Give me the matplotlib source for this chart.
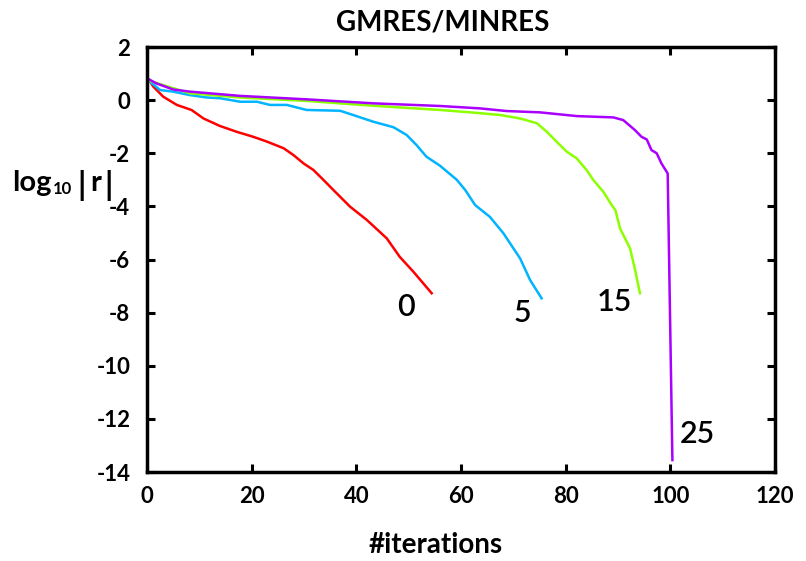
import matplotlib
matplotlib.use("Agg")
import matplotlib.pyplot as plt

plt.rcParams['font.family'] = ['Lato', 'DejaVu Sans']
plt.rcParams['font.weight'] = 'bold'
plt.rcParams['axes.unicode_minus'] = False

# residual histories (x = iteration, y = log10|r|)
x0 = [0.4, 1.2, 3.1, 5.7, 8.5, 10.8, 13.9, 17.1, 20.3, 22.9, 26.1, 28, 29.9, 31.8,
      33.7, 35.6, 38.8, 42, 45.8, 48.3, 50.9, 54.4]
y0 = [0.76, 0.51, 0.13, -0.18, -0.37, -0.69, -0.97, -1.19, -1.38, -1.56, -1.81, -2.07,
      -2.38, -2.63, -3.0, -3.38, -4.01, -4.51, -5.2, -5.9, -6.46, -7.27]

x5 = [0.6, 2.5, 5, 8.2, 11.4, 14, 17.8, 21, 23.5, 26.7, 30.5, 36.9, 39.4, 43.2, 47.1,
      49.6, 51.5, 53.4, 56, 59.2, 60.8, 62.7, 65.5, 68.1, 71.3, 73.2, 75.4]
y5 = [0.69, 0.38, 0.32, 0.19, 0.1, 0.07, -0.06, -0.06, -0.18, -0.18, -0.37, -0.4, -0.56,
      -0.81, -1.02, -1.31, -1.69, -2.13, -2.47, -3.0, -3.38, -3.95, -4.39, -5.01, -5.96,
      -6.77, -7.46]

x15 = [0.6, 5, 8.2, 17.8, 30.5, 43.2, 56, 62.4, 67.5, 71.3, 74.5, 76.4, 78.3, 80.2, 82.1,
       84, 85.3, 87.2, 88.8, 89.5, 90.4, 92.3, 93.2, 94.2]
y15 = [0.72, 0.45, 0.26, 0.1, -0.03, -0.21, -0.37, -0.47, -0.56, -0.69, -0.87, -1.19,
       -1.57, -1.94, -2.19, -2.63, -3.01, -3.45, -3.95, -4.14, -4.83, -5.58, -6.33, -7.27]

x25 = [0.4, 1.8, 5, 8.2, 17.8, 30.5, 43.2, 56, 63.6, 68.7, 75.1, 82.1, 89.1, 91, 93.2,
       94.5, 95.5, 96.4, 97.4, 98.3, 99.5, 100.4]
y25 = [0.78, 0.63, 0.4, 0.32, 0.16, 0.03, -0.12, -0.22, -0.31, -0.41, -0.46, -0.6, -0.65,
       -0.75, -1.12, -1.38, -1.48, -1.88, -2.0, -2.38, -2.76, -13.55]

labels = ["0", "5", "15", "25"]
label_pos = [(49.5, -7.8), (71.8, -8.0), (89.4, -7.6), (105.1, -12.55)]
colors = ["#ff0000", "#00b4ff", "#8cff00", "#aa00ff"]

fig = plt.figure(figsize=(8.06, 5.61), dpi=100)
ax = fig.add_axes([0.1824, 0.1586, 0.7791, 0.7576])

for xs, ys, c in zip([x0, x5, x15, x25], [y0, y5, y15, y25], colors):
    ax.plot(xs, ys, color=c, lw=1.8)

for lab, (lx, ly) in zip(labels, label_pos):
    ax.text(lx, ly, lab, fontsize=22, fontweight="semibold", ha="center", va="center")

ax.set_xlim(0, 120)
ax.set_ylim(-14, 2)
ax.set_xticks(range(0, 121, 20))
ax.set_yticks(range(-14, 3, 2))
ax.tick_params(direction="in", top=True, right=True, length=6, width=2.2,
               labelsize=16)
ax.tick_params(axis="x", pad=10)
ax.tick_params(axis="y", pad=12)
for s in ax.spines.values():
    s.set_linewidth(2.5)

fig.text(443 / 806, 1 - 22 / 561, "GMRES/MINRES", fontsize=20, ha="center", va="center")
fig.text(436 / 806, 1 - 545 / 561, "#iterations", fontsize=20, ha="center", va="center")

# y label pieced together: log, small 10, spaced |r|
yl = 1 - 183 / 561
fig.text(12 / 806, yl, "log", fontsize=21, ha="left", va="center")
fig.text(53 / 806, 1 - 189 / 561, "10", fontsize=12, ha="left", va="center")
fig.text(82 / 806, 1 - 185 / 561, "|", fontsize=23, ha="center", va="center")
fig.text(96 / 806, yl, "r", fontsize=21, ha="center", va="center")
fig.text(109 / 806, 1 - 185 / 561, "|", fontsize=23, ha="center", va="center")

fig.savefig("out.png", dpi=100)
